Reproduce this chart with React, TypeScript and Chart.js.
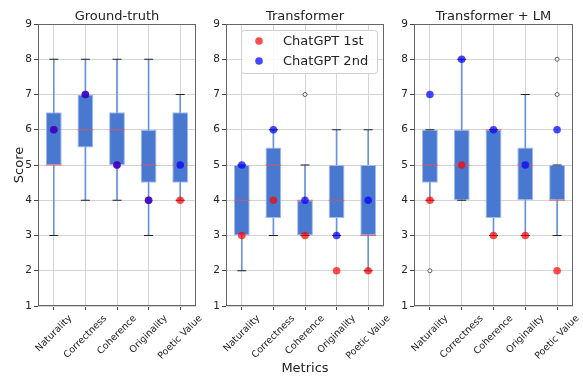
import React, { useEffect, useRef } from 'react';
import { Chart, registerables } from 'chart.js';

Chart.register(...registerables);

const FONT = '"DejaVu Sans", sans-serif';

// ---------- data ----------
const categories = ['Naturality', 'Correctness', 'Coherence', 'Originality', 'Poetic Value'];
const panelTitles = ['Ground-truth', 'Transformer', 'Transformer + LM'];
const yTicks = [1, 2, 3, 4, 5, 6, 7, 8, 9];

// Ground-truth
const gtQ1 = [5, 5.5, 5, 4.5, 4.5];
const gtQ3 = [6.5, 7, 6.5, 6, 6.5];
const gtMedian = [5, 6, 6, 5, 5];
const gtLow = [3, 4, 4, 3, 4];
const gtHigh = [8, 8, 8, 8, 7];
const gtOutliers: number[][] = [[], [], [], [], []];
const gtChat1 = [6, 7, 5, 4, 4];
const gtChat2 = [6, 7, 5, 4, 5];

// Transformer
const trQ1 = [3, 3.5, 3, 3.5, 3];
const trQ3 = [5, 5.5, 4, 5, 5];
const trMedian = [4, 5, 4, 4, 3];
const trLow = [2, 3, 3, 3, 2];
const trHigh = [5, 6, 5, 6, 6];
const trOutliers: number[][] = [[], [], [7], [], []];
const trChat1 = [3, 4, 3, 2, 2];
const trChat2 = [5, 6, 4, 3, 4];

// Transformer + LM
const lmQ1 = [4.5, 4, 3.5, 4, 4];
const lmQ3 = [6, 6, 6, 5.5, 5];
const lmMedian = [5, 5, 6, 5, 4];
const lmLow = [4, 4, 3, 3, 3];
const lmHigh = [6, 8, 6, 7, 5];
const lmOutliers: number[][] = [[2], [], [], [], [7, 8]];
const lmChat1 = [4, 5, 3, 3, 2];
const lmChat2 = [7, 8, 6, 5, 6];

const panels = [
  { q1: gtQ1, q3: gtQ3, med: gtMedian, low: gtLow, high: gtHigh, out: gtOutliers, c1: gtChat1, c2: gtChat2 },
  { q1: trQ1, q3: trQ3, med: trMedian, low: trLow, high: trHigh, out: trOutliers, c1: trChat1, c2: trChat2 },
  { q1: lmQ1, q3: lmQ3, med: lmMedian, low: lmLow, high: lmHigh, out: lmOutliers, c1: lmChat1, c2: lmChat2 },
];

// ---------- layout / style ----------
const W = 583;
const H = 378;
const AREA_LEFT = [38, 226, 414];
const AREA_RIGHT = [196, 384, 573];
const AREA_TOP = 24;
const AREA_BOTTOM = 306;
const Y_AXIS_W = 22;
const X_AXIS_H = 10;

const RED = 'rgba(255,0,0,0.7)';
const BLUE = 'rgba(0,0,255,0.72)';
const BOX_FILL = '#4878cf';
const BOX_EDGE = '#a3bbeb';
const WHISKER = '#6a91de';
const MEDIAN = 'rgba(235,80,80,0.8)';
const GRID = '#d4d4d4';
const FRAME = '#666666';
const TEXT = '#222222';

function makeConfig(idx: number): any {
  const p = panels[idx];
  const outlierPts: any[] = [];
  p.out.forEach((vals, i) => vals.forEach((v) => outlierPts.push({ x: categories[i], y: v })));

  const decor = {
    id: 'decor' + idx,
    afterDraw(chart: any) {
      const ctx = chart.ctx;
      const a = chart.chartArea;
      ctx.save();
      // frame
      ctx.strokeStyle = FRAME;
      ctx.lineWidth = 1;
      const l = Math.round(a.left) + 0.5;
      const t = Math.round(a.top) + 0.5;
      const r = Math.round(a.right) - 0.5;
      const b = Math.round(a.bottom) - 0.5;
      ctx.strokeRect(l, t, r - l, b - t);

      // title
      ctx.fillStyle = TEXT;
      ctx.font = `13px ${FONT}`;
      ctx.textAlign = 'center';
      ctx.textBaseline = 'alphabetic';
      ctx.fillText(panelTitles[idx], (a.left + a.right) / 2, 20);

      // rotated category labels (centered like matplotlib)
      const xs = chart.scales.x;
      ctx.font = `9.5px ${FONT}`;
      const h = 11;
      categories.forEach((lab, i) => {
        const x = xs.getPixelForTick(i);
        const w = ctx.measureText(lab).width;
        const d = ((w + h) * Math.SQRT1_2) / 2;
        ctx.save();
        ctx.translate(x, a.bottom + 7 + d);
        ctx.rotate(-Math.PI / 4);
        ctx.textAlign = 'center';
        ctx.textBaseline = 'middle';
        ctx.fillText(lab, 0, 0);
        ctx.restore();
      });

      if (idx === 0) {
        ctx.save();
        ctx.font = `13px ${FONT}`;
        ctx.translate(20, (a.top + a.bottom) / 2);
        ctx.rotate(-Math.PI / 2);
        ctx.textAlign = 'center';
        ctx.textBaseline = 'middle';
        ctx.fillText('Score', 0, 0);
        ctx.restore();
      }
      if (idx === 1) {
        ctx.font = `13px ${FONT}`;
        ctx.textAlign = 'center';
        ctx.textBaseline = 'alphabetic';
        ctx.fillText('Metrics', (a.left + a.right) / 2, 372);

        // legend
        const lx = a.left + 15, ly = 30, lw = 136, lh = 43;
        ctx.beginPath();
        ctx.roundRect(lx + 0.5, ly + 0.5, lw, lh, 3);
        ctx.fillStyle = 'rgba(255,255,255,0.85)';
        ctx.fill();
        ctx.strokeStyle = '#d0d0d0';
        ctx.stroke();
        const items = [
          { label: chart.data.datasets[1].label, color: chart.data.datasets[1].pointBackgroundColor },
          { label: chart.data.datasets[0].label, color: chart.data.datasets[0].pointBackgroundColor },
        ];
        items.forEach((it, k) => {
          const cy = ly + 11 + k * 20;
          ctx.beginPath();
          ctx.arc(lx + 18, cy, 3.8, 0, Math.PI * 2);
          ctx.fillStyle = it.color;
          ctx.fill();
          ctx.fillStyle = TEXT;
          ctx.font = `13px ${FONT}`;
          ctx.textAlign = 'left';
          ctx.textBaseline = 'middle';
          ctx.fillText(it.label, lx + 42, cy + 1);
        });
      }
      ctx.restore();
    },
  };

  return {
    type: 'bar',
    data: {
      labels: categories,
      datasets: [
        {
          type: 'line', label: 'ChatGPT 2nd', data: p.c2, showLine: false,
          pointRadius: 3.8, pointBackgroundColor: BLUE, pointBorderWidth: 0, borderColor: BLUE, order: 0,
        },
        {
          type: 'line', label: 'ChatGPT 1st', data: p.c1, showLine: false,
          pointRadius: 3.8, pointBackgroundColor: RED, pointBorderWidth: 0, borderColor: RED, order: 1,
        },
        {
          type: 'line', label: 'outliers', data: outlierPts, showLine: false,
          pointRadius: 2, pointBackgroundColor: '#ffffff', pointBorderColor: '#333333', pointBorderWidth: 0.8, order: 2,
        },
        {
          type: 'line', label: 'capLow', data: p.low, showLine: false, pointStyle: 'line',
          pointRadius: 4.5, pointBorderColor: '#222222', pointBorderWidth: 1, order: 3,
        },
        {
          type: 'line', label: 'capHigh', data: p.high, showLine: false, pointStyle: 'line',
          pointRadius: 4.5, pointBorderColor: '#222222', pointBorderWidth: 1, order: 3,
        },
        {
          type: 'line', label: 'median', data: p.med, showLine: false, pointStyle: 'line',
          pointRadius: 7.9, pointBorderColor: MEDIAN, pointBorderWidth: 1, order: 4,
        },
        {
          type: 'bar', label: 'box', data: p.q1.map((q, i) => [q, p.q3[i]]),
          backgroundColor: BOX_FILL, borderColor: BOX_EDGE, borderWidth: 1, borderSkipped: false,
          barPercentage: 0.5, categoryPercentage: 1, grouped: false, order: 5,
        },
        {
          type: 'bar', label: 'whisker', data: p.low.map((v, i) => [v, p.high[i]]),
          backgroundColor: WHISKER, borderWidth: 0, barThickness: 1, grouped: false, order: 6,
        },
      ],
    },
    options: {
      responsive: false,
      animation: false,
      events: [],
      layout: {
        padding: {
          left: AREA_LEFT[idx] - Y_AXIS_W,
          right: W - AREA_RIGHT[idx],
          top: AREA_TOP,
          bottom: H - AREA_BOTTOM - X_AXIS_H,
        },
      },
      plugins: { legend: { display: false }, tooltip: { enabled: false }, title: { display: false } },
      scales: {
        x: {
          type: 'category',
          offset: true,
          grid: { offset: false, color: GRID, lineWidth: 1, drawTicks: true, tickLength: 4, tickColor: '#444444' },
          border: { display: false },
          ticks: { display: false, autoSkip: false },
          afterFit: (s: any) => { s.height = X_AXIS_H; },
        },
        y: {
          min: yTicks[0],
          max: yTicks[yTicks.length - 1],
          afterBuildTicks: (s: any) => { s.ticks = yTicks.map((v) => ({ value: v })); },
          ticks: { font: { family: FONT, size: 10.5 }, color: TEXT, padding: 2 },
          grid: { color: GRID, lineWidth: 1, tickLength: 4, tickColor: '#444444' },
          border: { display: false },
          afterFit: (s: any) => { s.width = Y_AXIS_W; },
        },
      },
    },
    plugins: [decor],
  };
}

function Panel({ idx }: { idx: number }) {
  const ref = useRef<HTMLCanvasElement | null>(null);
  useEffect(() => {
    if (!ref.current) return;
    const chart = new Chart(ref.current, makeConfig(idx));
    return () => chart.destroy();
  }, [idx]);
  return (
    <canvas
      ref={ref}
      width={W}
      height={H}
      style={{ position: 'absolute', left: 0, top: 0, width: W, height: H }}
    />
  );
}

export default function App() {
  return (
    <div style={{ position: 'absolute', left: 0, top: 0, width: W, height: H, background: '#ffffff' }}>
      <Panel idx={0} />
      <Panel idx={1} />
      <Panel idx={2} />
    </div>
  );
}
